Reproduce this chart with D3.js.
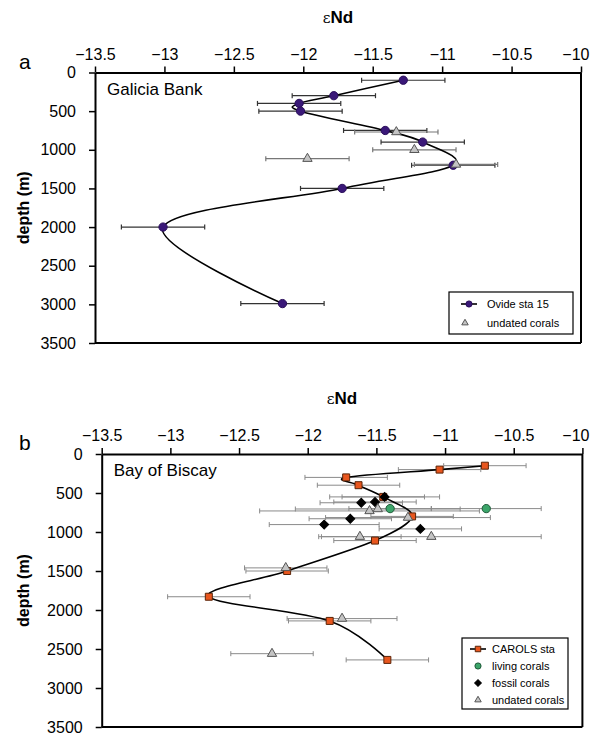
<!DOCTYPE html>
<html><head><meta charset="utf-8">
<script src="https://cdn.jsdelivr.net/npm/d3@7"></script>
<style>
html,body{margin:0;padding:0;background:#fff;}
svg{display:block;font-family:"Liberation Sans",Arial,sans-serif;}
</style></head>
<body>
<svg id="c" width="590" height="736"></svg>
<script>
// ---------- DATA ----------
const xTicks = [-13.5, -13, -12.5, -12, -11.5, -11, -10.5, -10];
const yTicks = [0, 500, 1000, 1500, 2000, 2500, 3000, 3500];

// Panel a: Galicia Bank
const ovideDepth = [100, 300, 400, 500, 750, 900, 1200, 1500, 2000, 2990];
const ovideEnd   = [-11.28, -11.78, -12.03, -12.02, -11.41, -11.14, -10.92, -11.72, -13.01, -12.15];
const ovideErr   = [0.3, 0.3, 0.3, 0.3, 0.3, 0.3, 0.3, 0.3, 0.3, 0.3];
const galUndDepth = [770, 1000, 1115, 1190];
const galUndEnd   = [-11.33, -11.20, -11.97, -10.90];
const galUndErr   = [0.3, 0.3, 0.3, 0.3];

// Panel b: Bay of Biscay
const carolsDepth = [150, 200, 300, 400, 550, 800, 1110, 1500, 1830, 2140, 2640];
const carolsEnd   = [-10.71, -11.04, -11.72, -11.63, -11.45, -11.24, -11.51, -12.15, -12.72, -11.84, -11.42];
const carolsErr   = [0.3, 0.3, 0.3, 0.3, 0.3, 0.3, 0.3, 0.3, 0.3, 0.3, 0.3];
const livingDepth = [700, 700];
const livingEnd   = [-11.40, -10.70];
const livingErr   = [0.3, 0.4];
const fossilDepth = [550, 615, 625, 830, 905, 960];
const fossilEnd   = [-11.44, -11.51, -11.61, -11.69, -11.88, -11.18];
const fossilErr   = [0.4, 0.3, 0.3, 0.3, 0.4, 0.3];
const bobUndDepth = [705, 730, 815, 1060, 1060, 1460, 2110, 2560];
const bobUndEnd   = [-11.49, -11.55, -11.27, -11.62, -11.10, -12.16, -11.75, -12.26];
const bobUndErr   = [0.6, 0.8, 0.6, 0.3, 0.8, 0.3, 0.4, 0.3];

// ---------- DRAW ----------
const svg = d3.select("#c");
const zip = (d, e, r) => d.map((v, i) => ({depth: v, end: e[i], err: r[i]}));

function panel(cfg) {
  const x = d3.scaleLinear().domain([-13.5, -10]).range([cfg.x0, cfg.x1]);
  const y = d3.scaleLinear().domain([0, 3500]).range([cfg.y0, cfg.y1]);
  const g = svg.append("g");

  g.append("line").attr("x1", cfg.x1).attr("x2", cfg.x1).attr("y1", cfg.y0).attr("y2", cfg.y1)
    .attr("stroke", "#000").attr("stroke-width", 2);
  g.append("line").attr("x1", cfg.x0).attr("x2", cfg.x1).attr("y1", cfg.y1).attr("y2", cfg.y1)
    .attr("stroke", "#000").attr("stroke-width", 2);

  const xa = g.append("g").attr("transform", `translate(0,${cfg.y0})`)
    .call(d3.axisTop(x).tickValues(xTicks).tickSize(6).tickSizeOuter(0).tickPadding(7).tickFormat(d3.format("")));
  xa.select(".domain").attr("stroke-width", 2);
  xa.selectAll(".tick line").attr("stroke-width", 1.5);
  xa.selectAll("text").attr("font-size", 16).attr("font-family", "Liberation Sans, Arial, sans-serif").attr("fill", "#000");
  // keep the last label inside the picture (as the original does)
  xa.selectAll(".tick").filter(d => d === -10).select("text")
    .attr("text-anchor", "end").attr("x", 590 - cfg.x1 - 1);

  const ya = g.append("g").attr("transform", `translate(${cfg.x0},0)`)
    .call(d3.axisLeft(y).tickValues(yTicks).tickSize(6).tickSizeOuter(0).tickPadding(13).tickFormat(d3.format("")));
  ya.select(".domain").attr("stroke-width", 2);
  ya.selectAll(".tick line").attr("stroke-width", 1.5);
  ya.selectAll("text").attr("font-size", 16).attr("font-family", "Liberation Sans, Arial, sans-serif").attr("fill", "#000");

  const t = g.append("text").attr("x", (cfg.x0 + cfg.x1) / 2).attr("y", cfg.y0 - 50)
    .attr("text-anchor", "middle").attr("font-size", 17);
  t.append("tspan").attr("font-family", "DejaVu Serif, serif").attr("font-size", 15).text("ε");
  t.append("tspan").attr("font-weight", "bold").text("Nd");
  g.append("text").attr("transform", `translate(29,${(cfg.y0 + cfg.y1) / 2}) rotate(-90)`)
    .attr("text-anchor", "middle").attr("font-size", 16).attr("font-weight", "bold").text("depth (m)");
  g.append("text").attr("x", 19).attr("y", cfg.y0 - 4).attr("font-size", 21).text(cfg.letter);
  g.append("text").attr("x", cfg.x0 + 12).attr("y", cfg.y0 + 22).attr("font-size", 17).text(cfg.site);

  return {g, x, y};
}

function errBars(p, data, color, w) {
  const eg = p.g.append("g").attr("stroke", color).attr("stroke-width", w || 1).attr("fill", "none");
  data.forEach(d => {
    const yy = p.y(d.depth), xl = p.x(d.end - d.err), xr = p.x(d.end + d.err);
    eg.append("line").attr("x1", xl).attr("x2", xr).attr("y1", yy).attr("y2", yy);
    eg.append("line").attr("x1", xl).attr("x2", xl).attr("y1", yy - 2.5).attr("y2", yy + 2.5);
    eg.append("line").attr("x1", xr).attr("x2", xr).attr("y1", yy - 2.5).attr("y2", yy + 2.5);
  });
}

function curve(p, data) {
  const line = d3.line().x(d => p.x(d.end)).y(d => p.y(d.depth)).curve(d3.curveCardinal.tension(0));
  p.g.append("path").attr("d", line(data)).attr("fill", "none").attr("stroke", "#000").attr("stroke-width", 1.6);
}

function markers(p, data, type, size, fill, stroke, rot) {
  const sym = d3.symbol().type(type).size(size);
  p.g.append("g").selectAll("path").data(data).join("path")
    .attr("d", sym)
    .attr("transform", d => `translate(${p.x(d.end)},${p.y(d.depth)}) rotate(${rot || 0})`)
    .attr("fill", fill).attr("stroke", stroke).attr("stroke-width", 1);
}

function legendItem(g, lx, ly, type, size, fill, stroke, label, withLine, rot, tx) {
  if (withLine) g.append("line").attr("x1", lx - 8).attr("x2", lx + 8).attr("y1", ly).attr("y2", ly)
    .attr("stroke", "#000").attr("stroke-width", 1.6);
  g.append("path").attr("d", d3.symbol().type(type).size(size)())
    .attr("transform", `translate(${lx},${ly}) rotate(${rot || 0})`)
    .attr("fill", fill).attr("stroke", stroke).attr("stroke-width", 1);
  g.append("text").attr("x", tx).attr("y", ly + 4).attr("font-size", 11).text(label);
}

const PURPLE = "#3a1878", ORANGE = "#e8561e", GREEN = "#3ca56a", TRI = "#c4c4c4";

// Panel a
const pa = panel({x0: 95, x1: 581, y0: 72.5, y1: 343, letter: "a", site: "Galicia Bank"});
const ovide = zip(ovideDepth, ovideEnd, ovideErr);
const galUnd = zip(galUndDepth, galUndEnd, galUndErr);
errBars(pa, ovide, "#333", 1.2);
errBars(pa, galUnd, "#777", 1.2);
curve(pa, ovide);
markers(pa, ovide, d3.symbolCircle, 54, PURPLE, "#2a0e5a");
markers(pa, galUnd, d3.symbolTriangle, 38, TRI, "#555");
pa.g.append("rect").attr("x", 449).attr("y", 292).attr("width", 124).attr("height", 42)
  .attr("fill", "#fff").attr("stroke", "#000").attr("stroke-width", 1.2);
legendItem(pa.g, 469, 304, d3.symbolCircle, 30, PURPLE, "#2a0e5a", "Ovide sta 15", true, 0, 487);
legendItem(pa.g, 465, 323, d3.symbolTriangle, 18, TRI, "#555", "undated corals", false, 0, 487);

// Panel b
const pb = panel({x0: 101.7, x1: 582.4, y0: 454, y1: 727, letter: "b", site: "Bay of Biscay"});
const carols = zip(carolsDepth, carolsEnd, carolsErr);
const living = zip(livingDepth, livingEnd, livingErr);
const fossil = zip(fossilDepth, fossilEnd, fossilErr);
const bobUnd = zip(bobUndDepth, bobUndEnd, bobUndErr);
[carols, living, fossil, bobUnd].forEach(s => errBars(pb, s, "#8a8a8a", 1));
curve(pb, carols);
markers(pb, carols, d3.symbolSquare, 49, ORANGE, "#5a2408");
markers(pb, living, d3.symbolCircle, 54, GREEN, "#1e5a38");
markers(pb, fossil, d3.symbolSquare, 40, "#000", "#000", 45);
markers(pb, bobUnd, d3.symbolTriangle, 38, TRI, "#555");
pb.g.append("rect").attr("x", 462).attr("y", 638).attr("width", 106).attr("height", 71)
  .attr("fill", "#fff").attr("stroke", "#000").attr("stroke-width", 1.2);
legendItem(pb.g, 478, 649, d3.symbolSquare, 30, ORANGE, "#5a2408", "CAROLS sta", true, 0, 492);
legendItem(pb.g, 478, 666, d3.symbolCircle, 30, GREEN, "#1e5a38", "living corals", false, 0, 492);
legendItem(pb.g, 478, 683, d3.symbolSquare, 22, "#000", "#000", "fossil corals", false, 45, 492);
legendItem(pb.g, 478, 700, d3.symbolTriangle, 18, TRI, "#555", "undated corals", false, 0, 492);
</script>
</body></html>
